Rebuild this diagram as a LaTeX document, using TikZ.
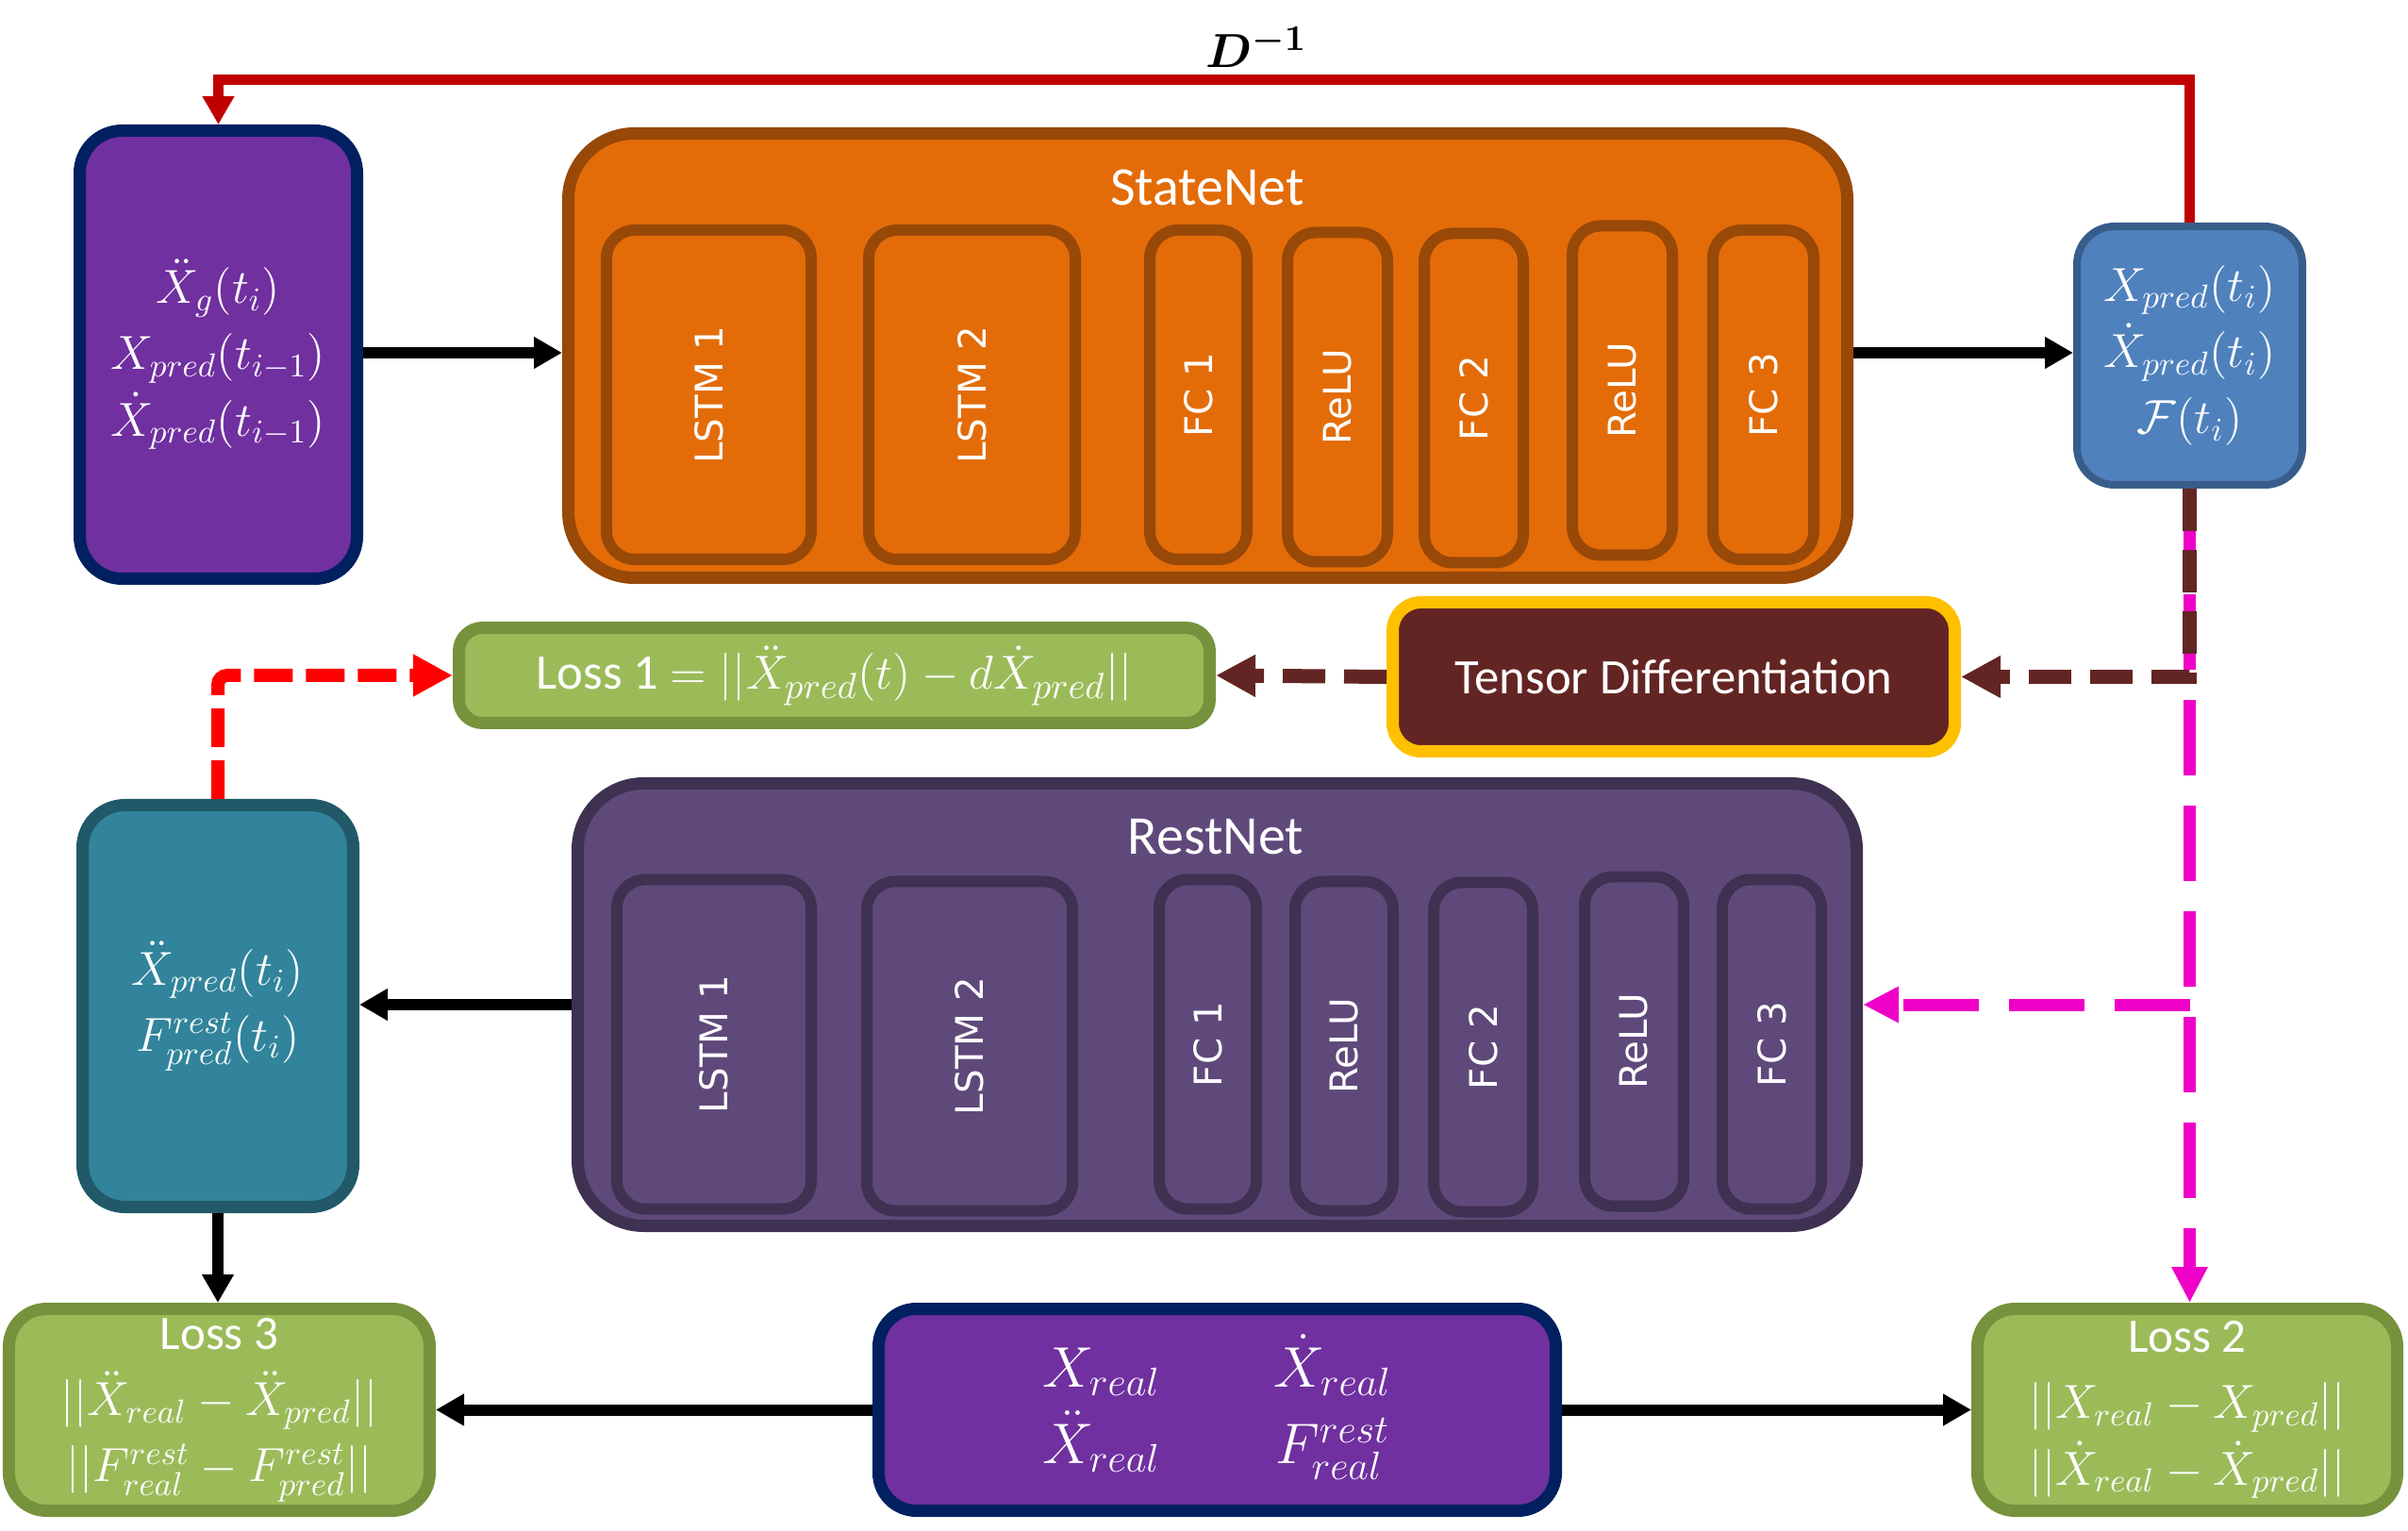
\documentclass[tikz,border=0pt]{standalone}
\usepackage{amsmath,amssymb}
\usepackage{fontspec}
\setmainfont{Carlito}
\newfontfamily\layerfont{DejaVu Sans}
\usepackage{xcolor}
\usepackage{tikz}
\usetikzlibrary{arrows.meta,calc}
\definecolor{inpfill}{RGB}{112,48,160}
\definecolor{inpline}{RGB}{0,32,96}
\definecolor{snfill}{RGB}{227,108,9}
\definecolor{snline}{RGB}{152,72,7}
\definecolor{rnfill}{RGB}{95,73,122}
\definecolor{rnline}{RGB}{63,49,81}
\definecolor{outfill}{RGB}{79,129,189}
\definecolor{outline}{RGB}{56,93,138}
\definecolor{accfill}{RGB}{49,132,155}
\definecolor{accline}{RGB}{33,89,104}
\definecolor{lossfill}{RGB}{155,187,89}
\definecolor{lossline}{RGB}{118,146,60}
\definecolor{tdfill}{RGB}{99,37,35}
\definecolor{tdline}{RGB}{255,192,0}
\definecolor{fbred}{RGB}{192,0,0}
\definecolor{dashred}{RGB}{255,0,0}
\definecolor{dashmag}{RGB}{238,0,198}
\tikzset{
  blk/.style    ={draw, line width=0.13cm, rounded corners=0.45cm, text=white, align=center, inner sep=2pt},
  netbox/.style ={blk, rounded corners=0.7cm, minimum width=13.56cm},
  layer/.style  ={draw, line width=0.12cm, rounded corners=0.3cm, minimum height=3.49cm},
  lyrtxt/.style ={rotate=90, text=white, font=\layerfont\fontsize{11.5}{13}\selectfont, inner sep=0pt},
  ttl/.style    ={text=white, font=\fontsize{16.5}{19}\selectfont, inner sep=1pt},
  mth/.style    ={font=\fontsize{14.5}{20}\selectfont},
  big/.style    ={font=\fontsize{15}{17}\selectfont},
  flow/.style   ={draw=black, line width=0.12cm, -{Triangle[length=0.3cm,width=0.32cm]}},
  fback/.style  ={draw=fbred, line width=0.11cm, -{Triangle[length=0.3cm,width=0.32cm]}},
  rdash/.style  ={draw=dashred, line width=0.14cm, dash pattern=on 0.41cm off 0.14cm,
                  rounded corners=0.1cm, -{Triangle[length=0.42cm,width=0.42cm]}},
  bdash/.style  ={draw=tdfill, line width=0.15cm, dash pattern=on 0.45cm off 0.2cm,
                  -{Triangle[length=0.42cm,width=0.42cm]}},
  mdash/.style  ={draw=dashmag, line width=0.13cm, dash pattern=on 0.8cm off 0.32cm,
                  -{Triangle[length=0.38cm,width=0.36cm]}},
}

\begin{document}
\begin{tikzpicture}
  \useasboundingbox (0,0) rectangle (25.53,16.22);
  % top row
  \node[blk, draw=inpline, fill=inpfill, minimum width=2.94cm, minimum height=4.75cm, mth] (inp) at (2.315,12.46)
    {$\ddot{X}_g(t_i)$\\$X_{pred}(t_{i-1})$\\$\dot{X}_{pred}(t_{i-1})$};
  \node[netbox, draw=snline, fill=snfill, minimum height=4.71cm] (statenet) at (12.805,12.45) {};
  \node[ttl] (sntitle) at (12.80,14.23) {StateNet};
  \node[layer, draw=snline, fill=snfill, minimum width=2.17cm, label={[lyrtxt]center:LSTM 1}] (sl1) at (7.515,12.035) {};
  \node[layer, draw=snline, fill=snfill, minimum width=2.19cm, label={[lyrtxt]center:LSTM 2}] (sl2) at (10.305,12.035) {};
  \node[layer, draw=snline, fill=snfill, minimum width=1.03cm, label={[lyrtxt]center:FC 1}] (sf1) at (12.705,12.035) {};
  \node[layer, draw=snline, fill=snfill, minimum width=1.06cm, label={[lyrtxt]center:ReLU}] (sr1) at (14.18,12.01) {};
  \node[layer, draw=snline, fill=snfill, minimum width=1.05cm, label={[lyrtxt]center:FC 2}] (sf2) at (15.625,12.0) {};
  \node[layer, draw=snline, fill=snfill, minimum width=1.06cm, label={[lyrtxt]center:ReLU}] (sr2) at (17.20,12.08) {};
  \node[layer, draw=snline, fill=snfill, minimum width=1.07cm, label={[lyrtxt]center:FC 3}] (sf3) at (18.695,12.035) {};
  \node[blk, draw=outline, line width=0.08cm, fill=outfill, rounded corners=0.4cm, minimum width=2.39cm, minimum height=2.74cm, mth] (out) at (23.215,12.45)
    {$X_{pred}(t_i)$\\$\dot{X}_{pred}(t_i)$\\$\mathcal{F}(t_i)$};
  \node[big, inner sep=1pt] (dinv) at (13.32,15.72) {$\boldsymbol{D^{-1}}$};
  \coordinate (fbtop) at (13.32,15.37);
  % middle row
  \node[blk, draw=lossline, fill=lossfill, rounded corners=0.25cm, minimum width=7.96cm, minimum height=1.01cm, big] (lossone) at (8.845,9.06)
    {Loss 1 $= ||\ddot{X}_{pred}(t)-d\dot{X}_{pred}||$};
  \node[blk, draw=tdline, fill=tdfill, rounded corners=0.3cm, minimum width=5.96cm, minimum height=1.58cm, big] (tensor) at (17.745,9.045)
    {Tensor Differentiation};
  \node[netbox, draw=rnline, fill=rnfill, minimum height=4.69cm] (restnet) at (12.905,5.57) {};
  \node[ttl] (rntitle) at (12.89,7.35) {RestNet};
  \node[layer, draw=rnline, fill=rnfill, minimum width=2.06cm, label={[lyrtxt]center:LSTM 1}] (rl1) at (7.57,5.15) {};
  \node[layer, draw=rnline, fill=rnfill, minimum width=2.18cm, label={[lyrtxt]center:LSTM 2}] (rl2) at (10.28,5.13) {};
  \node[layer, draw=rnline, fill=rnfill, minimum width=1.03cm, label={[lyrtxt]center:FC 1}] (rf1) at (12.805,5.15) {};
  \node[layer, draw=rnline, fill=rnfill, minimum width=1.04cm, label={[lyrtxt]center:ReLU}] (rr1) at (14.25,5.13) {};
  \node[layer, draw=rnline, fill=rnfill, minimum width=1.05cm, label={[lyrtxt]center:FC 2}] (rf2) at (15.725,5.12) {};
  \node[layer, draw=rnline, fill=rnfill, minimum width=1.05cm, label={[lyrtxt]center:ReLU}] (rr2) at (17.325,5.18) {};
  \node[layer, draw=rnline, fill=rnfill, minimum width=1.05cm, label={[lyrtxt]center:FC 3}] (rf3) at (18.785,5.15) {};
  \node[blk, draw=accline, fill=accfill, minimum width=2.87cm, minimum height=4.26cm, mth] (accel) at (2.31,5.555)
    {$\ddot{X}_{pred}(t_i)$\\$F^{rest}_{pred}(t_i)$};
  % bottom row
  \node[blk, draw=lossline, fill=lossfill, rounded corners=0.4cm, minimum width=4.46cm, minimum height=2.14cm, mth] (lossthree) at (2.325,1.275)
    {Loss 3\\$||\ddot{X}_{real}-\ddot{X}_{pred}||$\\$||F^{rest}_{real}-F^{rest}_{pred}||$};
  \node[blk, draw=inpline, fill=inpfill, rounded corners=0.4cm, minimum width=7.18cm, minimum height=2.14cm, font=\fontsize{18}{23}\selectfont] (data) at (12.905,1.275)
    {\begin{tabular}{c@{\hspace{1.2cm}}c}$X_{real}$ & $\dot{X}_{real}$\\$\ddot{X}_{real}$ & $F^{rest}_{real}$\end{tabular}};
  \node[blk, draw=lossline, fill=lossfill, rounded corners=0.4cm, minimum width=4.45cm, minimum height=2.14cm, mth] (losstwo) at (23.19,1.275)
    {Loss 2\\$||X_{real}-X_{pred}||$\\$||\dot{X}_{real}-\dot{X}_{pred}||$};
  % connectors
  \draw[mdash] (out.south) -- (out.south |- losstwo.north);
  \draw[mdash] (out.south |- restnet.east) -- (restnet.east);
  \draw[bdash] (out.south) |- (tensor.east);
  \draw[bdash] (tensor.west) -- (lossone.east);
  \draw[flow] (inp.east |- 0,12.48) -- (statenet.west |- 0,12.48);
  \draw[flow] (statenet.east |- 0,12.48) -- (out.west |- 0,12.48);
  \draw[fback] (out.north) -- (out.north |- fbtop) -| (inp.north);
  \draw[rdash] (accel.north) |- (lossone.west);
  \draw[flow] (restnet.west) -- (restnet.west -| accel.east);
  \draw[flow] (accel.south) -- (accel.south |- lossthree.north);
  \draw[flow] (data.west) -- (lossthree.east);
  \draw[flow] (data.east) -- (losstwo.west);
\end{tikzpicture}
\end{document}
